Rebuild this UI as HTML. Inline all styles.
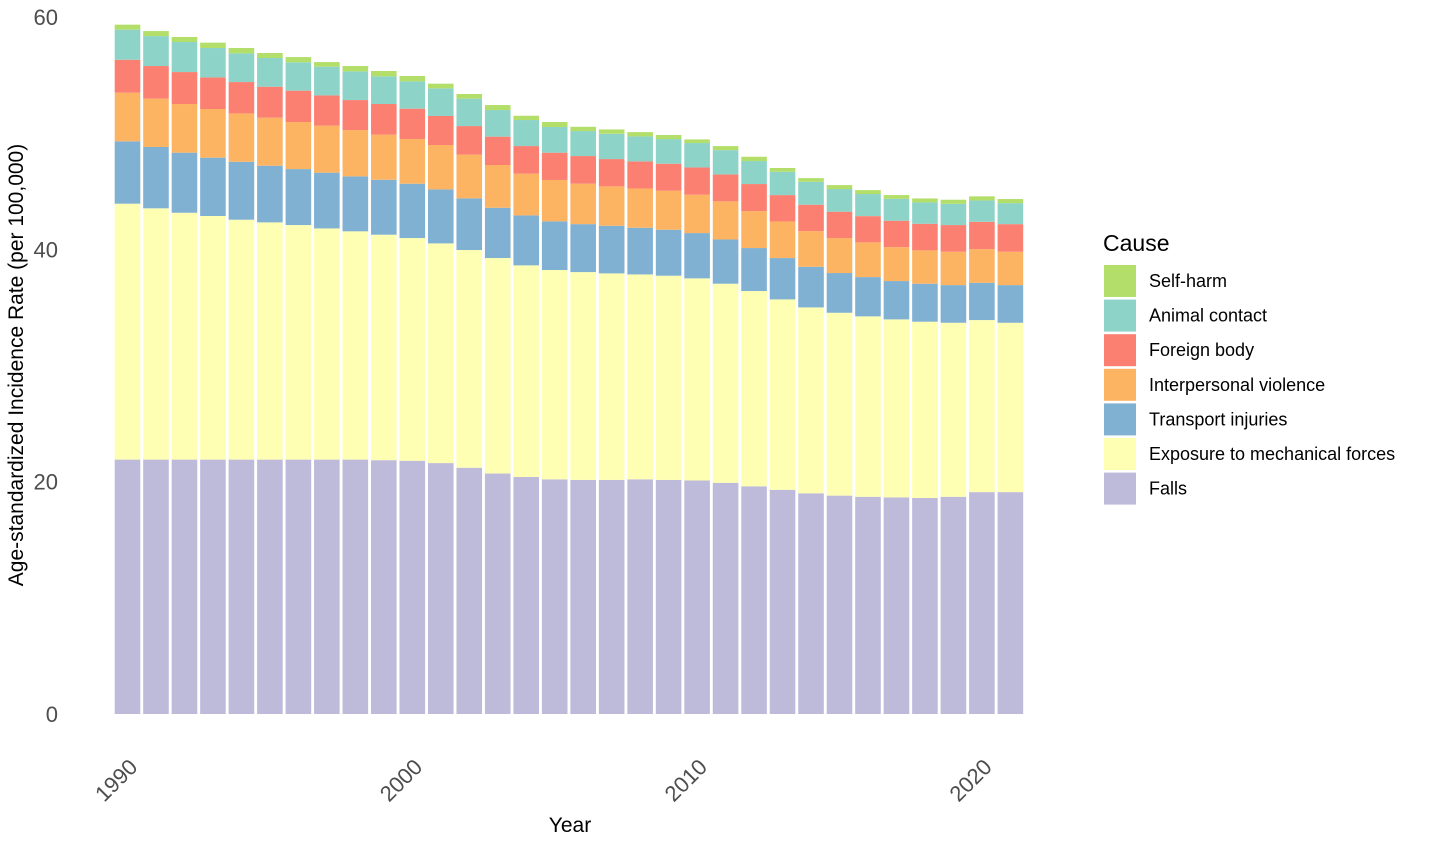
<!DOCTYPE html>
<html><head><meta charset="utf-8"><style>
body{margin:0;background:#fff;}
svg text{font-family:"Liberation Sans",Arial,sans-serif;}
</style></head><body>
<svg id="chart" width="1430" height="840" xmlns="http://www.w3.org/2000/svg">
<g id="bars"></g>
<g id="yaxis"></g>
<g id="xaxis"></g>
<text x="570" y="832" font-size="21" text-anchor="middle" fill="#000">Year</text>
<text transform="translate(23,365) rotate(-90)" font-size="21" text-anchor="middle" fill="#000">Age-standardized Incidence Rate (per 100,000)</text>
<g id="legend">
<text x="1103" y="251" font-size="23" fill="#000">Cause</text>
</g>
</svg>
<script>
const years = [1990,1991,1992,1993,1994,1995,1996,1997,1998,1999,2000,2001,2002,2003,2004,2005,2006,2007,2008,2009,2010,2011,2012,2013,2014,2015,2016,2017,2018,2019,2020,2021];
const falls = [21.9,21.9,21.9,21.9,21.9,21.9,21.9,21.9,21.9,21.85,21.8,21.6,21.2,20.7,20.4,20.2,20.15,20.15,20.2,20.15,20.1,19.9,19.6,19.3,19.0,18.8,18.7,18.65,18.6,18.7,19.1,19.1];
const mechanical = [22.03,21.63,21.25,20.97,20.65,20.42,20.19,19.9,19.65,19.41,19.17,18.91,18.74,18.55,18.22,18.02,17.89,17.78,17.64,17.58,17.4,17.14,16.81,16.39,16.0,15.74,15.53,15.32,15.17,14.98,14.81,14.58];
const transport = [5.37,5.28,5.17,5.02,4.99,4.88,4.82,4.8,4.73,4.73,4.68,4.65,4.45,4.33,4.3,4.19,4.13,4.1,4.02,3.96,3.9,3.81,3.7,3.56,3.5,3.42,3.38,3.3,3.27,3.24,3.21,3.24];
const violence = [4.18,4.16,4.19,4.19,4.16,4.13,4.05,4.04,3.99,3.88,3.85,3.82,3.76,3.68,3.59,3.56,3.48,3.39,3.38,3.35,3.3,3.28,3.18,3.15,3.07,3.01,2.99,2.92,2.87,2.87,2.9,2.87];
const foreignBody = [2.84,2.81,2.75,2.72,2.7,2.67,2.7,2.61,2.58,2.64,2.61,2.5,2.46,2.44,2.38,2.35,2.38,2.35,2.33,2.33,2.35,2.32,2.33,2.27,2.27,2.27,2.26,2.27,2.29,2.3,2.35,2.38];
const animal = [2.59,2.58,2.59,2.53,2.47,2.47,2.44,2.47,2.47,2.38,2.35,2.38,2.36,2.29,2.24,2.21,2.15,2.18,2.15,2.12,2.1,2.09,1.98,2.01,1.98,1.95,1.9,1.89,1.84,1.83,1.84,1.81];
const selfHarm = [0.43,0.43,0.43,0.46,0.46,0.43,0.45,0.4,0.46,0.46,0.46,0.4,0.4,0.43,0.37,0.43,0.37,0.37,0.37,0.35,0.31,0.35,0.37,0.32,0.31,0.34,0.34,0.32,0.34,0.35,0.35,0.35];
const yTicks = [0,20,40,60];
const xTicks = [1990,2000,2010,2020];
const seriesNames = ["Falls","Exposure to mechanical forces","Transport injuries","Interpersonal violence","Foreign body","Animal contact","Self-harm"];

const series = [falls,mechanical,transport,violence,foreignBody,animal,selfHarm];
const colors = ["#bebada","#ffffb3","#80b1d3","#fdb462","#fb8072","#8dd3c7","#b3de69"];
const NS="http://www.w3.org/2000/svg";
const y0=714, y60=17;
const yScale=v=>y0-(y0-y60)*v/60;
const step=28.48, bw=25.6;
const xScale=yr=>127.5+(yr-1990)*step;
function mk(tag,attrs,parent){const e=document.createElementNS(NS,tag);for(const k in attrs)e.setAttribute(k,attrs[k]);parent.appendChild(e);return e;}
const gb=document.getElementById('bars');
const slug=["falls","mechanical","transport","violence","foreign-body","animal","self-harm"];
years.forEach((yr,i)=>{
  let cum=0;
  series.forEach((s,j)=>{
    const a=cum, b=cum+s[i]; cum=b;
    const r=mk('rect',{x:xScale(yr)-bw/2,y:yScale(b),width:bw,height:yScale(a)-yScale(b),fill:colors[j]},gb);
    
    
  });
});
const gy=document.getElementById('yaxis');
yTicks.forEach(t=>{
  const e=mk('text',{x:58,y:yScale(t)+8,'font-size':22,'text-anchor':'end',fill:'#4d4d4d'},gy);
  e.textContent=t;
  
  
});
const gx=document.getElementById('xaxis');
xTicks.forEach(t=>{
  const x=xScale(t)+0, y=757;
  const e=mk('text',{x:x,y:y,'font-size':22,'text-anchor':'end',fill:'#4d4d4d',transform:`rotate(-45 ${x} ${y})`,dy:'16'},gx);
  e.textContent=t;
  
  
});
const gl=document.getElementById('legend');
const order=[6,5,4,3,2,1,0];
order.forEach((j,k)=>{
  const y=265+k*34.6;
  const r=mk('rect',{x:1104,y:y,width:32,height:32,fill:colors[j]},gl);
  
  
  const t=mk('text',{x:1149,y:y+22,'font-size':18,fill:'#000'},gl);
  t.textContent=seriesNames[j];
  
  
});
</script>
</body></html>
